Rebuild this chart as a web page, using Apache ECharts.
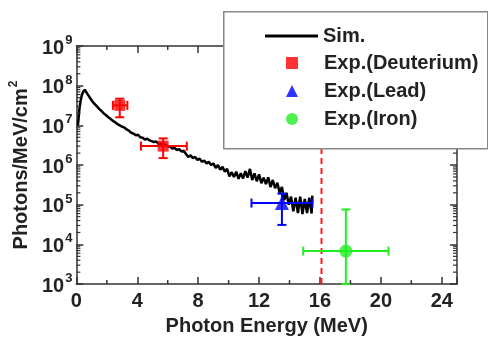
<!DOCTYPE html>
<html>
<head>
<meta charset="utf-8">
<script src="https://cdn.jsdelivr.net/npm/echarts@6/dist/echarts.min.js"></script>
<style>
  html, body { margin: 0; padding: 0; background: #fff; }
  #chart { width: 488px; height: 341px; }
</style>
</head>
<body>
<div id="chart"></div>
<script>
// simulated spectrum (MeV, photons/MeV/cm^2)
const simX = [0.10, 0.15, 0.20, 0.28, 0.36, 0.45, 0.55, 0.62, 0.70, 0.80, 0.90, 1.00, 1.10, 1.20, 1.35, 1.50,
  1.65, 1.80, 1.95, 2.10, 2.25, 2.40, 2.55, 2.70, 2.85, 3.00, 3.15, 3.30, 3.45, 3.60, 3.75, 3.90, 4.05, 4.20,
  4.35, 4.50, 4.65, 4.80, 4.95, 5.10, 5.25, 5.40, 5.55, 5.70, 5.85, 6.00, 6.15, 6.30, 6.45, 6.60, 6.75, 6.90,
  7.05, 7.20, 7.35, 7.50, 7.65, 7.80, 7.95, 8.10, 8.25, 8.40, 8.55, 8.70, 8.85, 9.00, 9.15, 9.30, 9.45, 9.60,
  9.75, 9.90, 10.05, 10.20, 10.35, 10.50, 10.65, 10.80, 10.95, 11.10, 11.25, 11.40, 11.55, 11.70, 11.85, 12.00,
  12.15, 12.30, 12.45, 12.60, 12.75, 12.90, 13.05, 13.20, 13.35, 13.50, 13.65, 13.80, 13.95, 14.10, 14.25,
  14.40, 14.55, 14.70, 14.85, 15.00, 15.15, 15.30, 15.45, 15.50];
const simY = [1.0e7, 1.6e7, 2.6e7, 4.2e7, 5.8e7, 7.0e7, 7.9e7, 7.6e7, 6.4e7, 5.6e7, 4.9e7, 4.3e7, 3.8e7, 3.4e7, 3.0e7, 2.6e7,
  2.3e7, 2.0e7, 1.8e7, 1.6e7, 1.45e7, 1.3e7, 1.2e7, 1.07e7, 1.0e7, 9.3e6, 8.8e6, 7.9e6, 7.4e6, 6.5e6, 6.2e6, 5.6e6, 5.8e6, 5.0e6,
  4.9e6, 4.4e6, 4.6e6, 4.2e6, 4.0e6, 3.8e6, 3.9e6, 3.4e6, 3.5e6, 3.2e6, 3.3e6, 2.9e6, 3.0e6, 2.6e6, 2.7e6, 2.4e6, 2.5e6, 2.2e6,
  2.3e6, 1.9e6, 1.6e6, 1.75e6, 1.5e6, 1.6e6, 1.35e6, 1.45e6, 1.2e6, 1.3e6, 1.1e6, 1.2e6, 1.0e6, 1.1e6, 8.5e5, 1.0e6, 7.6e5, 9.0e5,
  6.8e5, 8.0e5, 5.2e5, 6.6e5, 5.0e5, 6.8e5, 4.5e5, 6.2e5, 4.6e5, 7.0e5, 4.8e5, 8.0e5, 4.2e5, 6.2e5, 3.9e5, 5.8e5,
  3.5e5, 4.8e5, 3.3e5, 4.9e5, 2.8e5, 4.2e5, 2.6e5, 3.6e5, 2.0e5, 2.8e5, 1.3e5, 2.0e5, 1.0e5, 1.6e5, 6.8e4,
  1.5e5, 6.2e4, 1.6e5, 5.8e4, 1.4e5, 6.2e4, 1.5e5, 6.0e4, 1.7e5];

// experimental points: centre, x range, y range
const deutX = [2.85, 5.7];
const deutY = [3.2e7, 3.0e6];
const deutXLo = [2.4, 4.24];
const deutXHi = [3.35, 7.25];
const deutYLo = [1.6e7, 1.5e6];
const deutYHi = [4.7e7, 4.7e6];

const leadX = [13.5];
const leadY = [1.1e5];
const leadXLo = [11.5];
const leadXHi = [15.5];
const leadYLo = [3.1e4];
const leadYHi = [1.9e5];

const ironX = [17.7];
const ironY = [6.8e3];
const ironXLo = [14.9];
const ironXHi = [20.5];
const ironYLo = [1.0e3];
const ironYHi = [7.6e4];

const cutoffX = 16.1;

const xTicks = [0, 4, 8, 12, 16, 20, 24];
const xMinorTicks = [2, 6, 10, 14, 18, 22];
const yDecades = [3, 4, 5, 6, 7, 8];

const FONT = 'Liberation Sans';
const X_MIN = 0, X_MAX = 25, Y_MIN = 1e3, Y_MAX = 1e9;

// minor log ticks 2..9 x 10^n
const yMinorTicks = [];
yDecades.forEach(function (n) {
  for (let m = 2; m <= 9; m++) yMinorTicks.push(m * Math.pow(10, n));
});

function zip(xs, ys) {
  return xs.map(function (x, i) { return [x, ys[i]]; });
}

function errRows(xs, ys, xlo, xhi, ylo, yhi) {
  return xs.map(function (x, i) { return [x, ys[i], xlo[i], xhi[i], ylo[i], yhi[i]]; });
}

function errorBars(color) {
  return function (params, api) {
    const c = api.coord([api.value(0), api.value(1)]);
    const l = api.coord([api.value(2), api.value(1)]);
    const r = api.coord([api.value(3), api.value(1)]);
    const b = api.coord([api.value(0), api.value(4)]);
    const t = api.coord([api.value(0), api.value(5)]);
    const cap = 4.5;
    const st = { stroke: color, lineWidth: 2 };
    const line = function (x1, y1, x2, y2) {
      return { type: 'line', shape: { x1: x1, y1: y1, x2: x2, y2: y2 }, style: st };
    };
    return {
      type: 'group',
      children: [
        line(l[0], c[1], r[0], c[1]),
        line(c[0], t[1], c[0], b[1]),
        line(l[0], c[1] - cap, l[0], c[1] + cap),
        line(r[0], c[1] - cap, r[0], c[1] + cap),
        line(c[0] - cap, t[1], c[0] + cap, t[1]),
        line(c[0] - cap, b[1], c[0] + cap, b[1])
      ]
    };
  };
}

const chart = echarts.init(document.getElementById('chart'));

const axisLine = { show: true, onZero: false, lineStyle: { color: '#333', width: 1.5 } };
const majorTick = { show: true, inside: true, length: 7, lineStyle: { color: '#333', width: 1.5 } };
const legendText = { fontFamily: FONT, fontWeight: 'bold', fontSize: 20, lineHeight: 20, color: '#222' };

const option = {
  animation: false,
  backgroundColor: '#fff',
  grid: { left: 74, right: 31, top: 46, bottom: 48 },
  xAxis: [{
    type: 'value', min: X_MIN, max: X_MAX, interval: 4,
    name: 'Photon Energy (MeV)', nameLocation: 'middle', nameGap: 28,
    nameTextStyle: { fontFamily: FONT, fontWeight: 'bold', fontSize: 20, color: '#222' },
    axisLine: axisLine,
    axisTick: majorTick,
    axisLabel: {
      margin: 7, fontFamily: FONT, fontWeight: 'bold', fontSize: 20, color: '#222',
      formatter: function (v) { return xTicks.indexOf(v) >= 0 ? String(v) : ''; }
    },
    splitLine: { show: false }
  }, {
    type: 'value', position: 'top', min: X_MIN, max: X_MAX, interval: 4,
    axisLine: axisLine,
    axisTick: majorTick,
    axisLabel: { show: false },
    splitLine: { show: false }
  }],
  yAxis: [{
    type: 'log', logBase: 10, min: Y_MIN, max: Y_MAX,
    name: '{a|Photons/MeV/cm}{s|2}', nameLocation: 'middle', nameGap: 44, nameRotate: 90,
    nameTextStyle: {
      rich: {
        a: { fontFamily: FONT, fontWeight: 'bold', fontSize: 20, color: '#222', verticalAlign: 'bottom' },
        s: { fontFamily: FONT, fontWeight: 'bold', fontSize: 12, color: '#222', verticalAlign: 'bottom', padding: [0, 0, 11, 1] }
      }
    },
    axisLine: axisLine,
    axisTick: majorTick,
    axisLabel: {
      margin: 4,
      formatter: function (v) { return '{b|10}{s|' + Math.round(Math.log10(v)) + '}'; },
      rich: {
        b: { fontFamily: FONT, fontWeight: 'bold', fontSize: 20, color: '#222', verticalAlign: 'bottom' },
        s: { fontFamily: FONT, fontWeight: 'bold', fontSize: 13, color: '#222', verticalAlign: 'bottom', padding: [0, 0, 11, 1] }
      }
    },
    splitLine: { show: false }
  }, {
    type: 'log', logBase: 10, min: Y_MIN, max: Y_MAX, position: 'right',
    axisLine: axisLine,
    axisTick: majorTick,
    axisLabel: { show: false },
    splitLine: { show: false }
  }],
  legend: [{
    left: 265, top: 26, orient: 'vertical', padding: 0, z: 60,
    itemWidth: 53, itemHeight: 3,
    textStyle: legendText,
    data: [{ name: 'Sim.', icon: 'rect', itemStyle: { color: '#000' } }]
  }, {
    left: 286, top: 53, orient: 'vertical', padding: 0, z: 60,
    itemWidth: 12, itemHeight: 12, itemGap: 8,
    textStyle: Object.assign({ padding: [0, 0, 0, 21] }, legendText),
    data: [
      { name: 'Exp.(Deuterium)', icon: 'rect', itemStyle: { color: '#ff0000' } },
      { name: 'Exp.(Lead)', icon: 'triangle', itemStyle: { color: '#0000ff' } },
      { name: 'Exp.(Iron)', icon: 'circle', itemStyle: { color: '#22ee22' } }
    ]
  }],
  graphic: {
    elements: [{
      type: 'rect', left: 223, top: 11, z: 50, silent: true,
      shape: { width: 264, height: 137 },
      style: { fill: '#fff', stroke: '#888', lineWidth: 1.5 }
    }]
  },
  series: [
    {
      name: 'Sim.', type: 'line', symbol: 'none', z: 3,
      lineStyle: { color: '#000', width: 2.5 }, itemStyle: { color: '#000' },
      data: zip(simX, simY)
    },
    {
      name: 'cutoff', type: 'line', symbol: 'none', z: 2,
      lineStyle: { color: '#ff1a1a', width: 2, type: [6, 4] },
      data: [[cutoffX, Y_MIN], [cutoffX, Y_MAX]]
    },
    {
      name: 'Deut err', type: 'custom', z: 4, renderItem: errorBars('#ff0000'),
      encode: { x: 0, y: 1 }, data: errRows(deutX, deutY, deutXLo, deutXHi, deutYLo, deutYHi)
    },
    {
      name: 'Lead err', type: 'custom', z: 4, renderItem: errorBars('#0000ff'),
      encode: { x: 0, y: 1 }, data: errRows(leadX, leadY, leadXLo, leadXHi, leadYLo, leadYHi)
    },
    {
      name: 'Iron err', type: 'custom', z: 4, renderItem: errorBars('#22ee22'),
      encode: { x: 0, y: 1 }, data: errRows(ironX, ironY, ironXLo, ironXHi, ironYLo, ironYHi)
    },
    {
      name: 'Exp.(Deuterium)', type: 'scatter', symbol: 'rect', symbolSize: 11, z: 5,
      itemStyle: { color: '#ff0000' }, data: zip(deutX, deutY)
    },
    {
      name: 'Exp.(Lead)', type: 'scatter', symbol: 'triangle', symbolSize: 14, z: 5,
      itemStyle: { color: '#0000ff' }, data: zip(leadX, leadY)
    },
    {
      name: 'Exp.(Iron)', type: 'scatter', symbol: 'circle', symbolSize: 13, z: 5,
      itemStyle: { color: '#22ee22' }, data: zip(ironX, ironY)
    },
    {
      // minor log ticks on left and right frame
      name: 'yMinor', type: 'custom', silent: true, z: 6, clip: false,
      encode: { x: 0, y: 1 },
      data: yMinorTicks.map(function (v) { return [X_MIN, v]; }),
      renderItem: function (params, api) {
        const p = api.coord([X_MIN, api.value(1)]);
        const q = api.coord([X_MAX, api.value(1)]);
        const st = { stroke: '#333', lineWidth: 1.2 };
        return {
          type: 'group', children: [
            { type: 'line', shape: { x1: p[0], y1: p[1], x2: p[0] + 4, y2: p[1] }, style: st },
            { type: 'line', shape: { x1: q[0], y1: q[1], x2: q[0] - 4, y2: q[1] }, style: st }
          ]
        };
      }
    },
    {
      name: 'xMinor', type: 'custom', silent: true, z: 6, clip: false,
      encode: { x: 0, y: 1 },
      data: xMinorTicks.map(function (v) { return [v, Y_MIN]; }),
      renderItem: function (params, api) {
        const p = api.coord([api.value(0), Y_MIN]);
        const q = api.coord([api.value(0), Y_MAX]);
        const st = { stroke: '#333', lineWidth: 1.5 };
        return {
          type: 'group', children: [
            { type: 'line', shape: { x1: p[0], y1: p[1], x2: p[0], y2: p[1] - 4 }, style: st },
            { type: 'line', shape: { x1: q[0], y1: q[1], x2: q[0], y2: q[1] + 4 }, style: st }
          ]
        };
      }
    }
  ]
};

chart.setOption(option);
</script>
</body>
</html>
